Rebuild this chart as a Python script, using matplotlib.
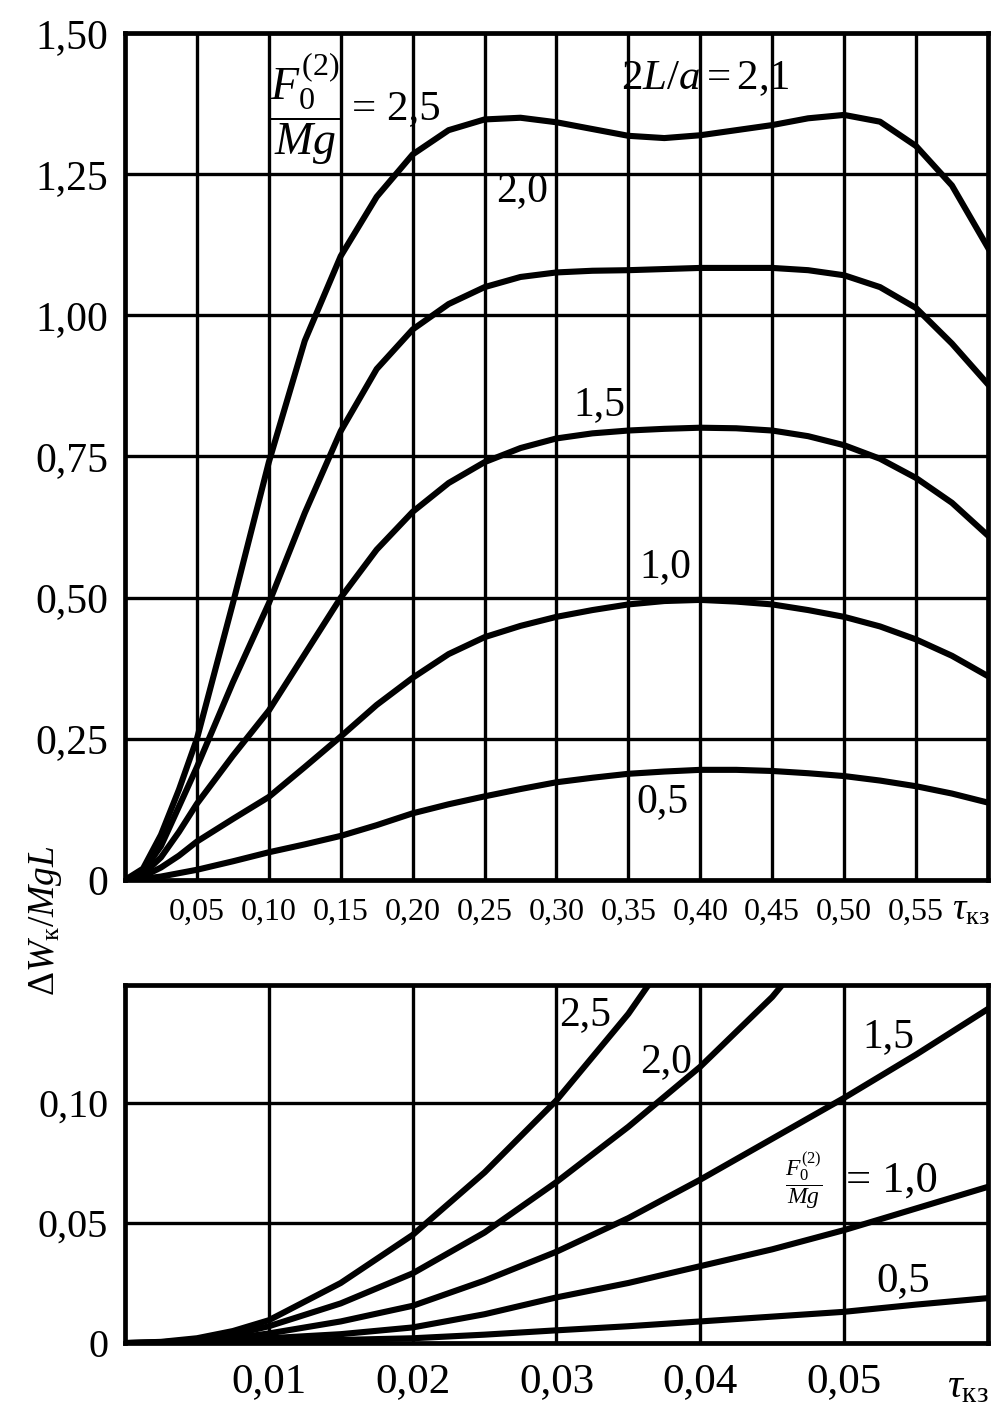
import matplotlib
matplotlib.use("Agg")
import matplotlib.pyplot as plt

plt.rcParams['font.family'] = ['Liberation Serif', 'DejaVu Serif']
plt.rcParams['mathtext.fontset'] = 'custom'
plt.rcParams['mathtext.rm'] = 'Liberation Serif'
plt.rcParams['mathtext.it'] = 'Liberation Serif:italic'
plt.rcParams['mathtext.bf'] = 'Liberation Serif:bold'

# top panel: tau_kz from 0 to 0.6
tau_top = [0, 0.0125, 0.025, 0.0375, 0.05, 0.075, 0.10, 0.125, 0.15, 0.175, 0.20,
           0.225, 0.25, 0.275, 0.30, 0.325, 0.35, 0.375, 0.40, 0.425, 0.45, 0.475,
           0.50, 0.525, 0.55, 0.575, 0.60]
w_top_25 = [0, 0.02, 0.08, 0.16, 0.25, 0.49, 0.74, 0.955, 1.105, 1.21, 1.285, 1.328, 1.347,
            1.35, 1.342, 1.33, 1.318, 1.314, 1.319, 1.328, 1.337, 1.349, 1.355, 1.343,
            1.30, 1.23, 1.12]
w_top_20 = [0, 0.015, 0.06, 0.13, 0.20, 0.35, 0.49, 0.65, 0.795, 0.905, 0.975, 1.02,
            1.05, 1.068, 1.076, 1.079, 1.08, 1.082, 1.084, 1.084, 1.084, 1.08, 1.071,
            1.05, 1.013, 0.95, 0.878]
w_top_15 = [0, 0.01, 0.04, 0.085, 0.135, 0.22, 0.30, 0.40, 0.50, 0.585, 0.652, 0.703,
            0.74, 0.765, 0.782, 0.791, 0.796, 0.799, 0.801, 0.8, 0.796, 0.786, 0.77,
            0.746, 0.712, 0.668, 0.61]
w_top_10 = [0, 0.006, 0.022, 0.043, 0.068, 0.108, 0.147, 0.20, 0.254, 0.31, 0.358, 0.40,
            0.43, 0.45, 0.466, 0.478, 0.488, 0.494, 0.496, 0.493, 0.488, 0.478, 0.466,
            0.449, 0.426, 0.397, 0.361]
w_top_05 = [0, 0.002, 0.006, 0.012, 0.018, 0.033, 0.049, 0.063, 0.078, 0.097, 0.118,
            0.134, 0.148, 0.161, 0.173, 0.181, 0.188, 0.192, 0.195, 0.195, 0.193, 0.189,
            0.184, 0.176, 0.166, 0.153, 0.137]

# bottom panel: zoom on tau_kz 0..0.06
tau_bot = [0, 0.0025, 0.005, 0.0075, 0.01, 0.015, 0.02, 0.025, 0.03, 0.035, 0.04,
           0.045, 0.05, 0.055, 0.06]
w_bot_25 = [0, 0.0005, 0.002, 0.005, 0.0095, 0.025, 0.045, 0.071, 0.101, 0.137, 0.18]
w_bot_20 = [0, 0.0003, 0.0015, 0.0035, 0.007, 0.0165, 0.029, 0.046, 0.067, 0.09, 0.115,
            0.144, 0.18]
w_bot_15 = [0, 0.0002, 0.001, 0.002, 0.004, 0.009, 0.0155, 0.026, 0.038, 0.052, 0.068,
            0.085, 0.102, 0.12, 0.139]
w_bot_10 = [0, 0.0001, 0.0004, 0.001, 0.002, 0.0037, 0.0065, 0.012, 0.019, 0.025, 0.032,
            0.039, 0.047, 0.056, 0.065]
w_bot_05 = [0, 0, 0.0001, 0.0003, 0.0007, 0.0013, 0.002, 0.0035, 0.0053, 0.007, 0.009,
            0.011, 0.013, 0.016, 0.0187]

top_xticks = [0.05, 0.10, 0.15, 0.20, 0.25, 0.30, 0.35, 0.40, 0.45, 0.50, 0.55]
top_yticks = [0, 0.25, 0.50, 0.75, 1.00, 1.25, 1.50]
bot_xticks = [0.01, 0.02, 0.03, 0.04, 0.05]
bot_yticks = [0, 0.05, 0.10]


def fmt(v, nd):
    if v == 0:
        return '0'
    return f'{v:.{nd}f}'.replace('.', ',')


fig = plt.figure(figsize=(10.05, 14.25), dpi=100)
ax1 = fig.add_axes([0.1244, 0.3825, 0.8586, 0.5943])
ax2 = fig.add_axes([0.1244, 0.0575, 0.8586, 0.2513])

for ax in (ax1, ax2):
    for s in ax.spines.values():
        s.set_linewidth(3.4)
    ax.grid(True, color='black', linewidth=2.4)
    ax.set_axisbelow(True)
    ax.tick_params(length=0)

lw = 4.4
for ys in (w_top_25, w_top_20, w_top_15, w_top_10, w_top_05):
    ax1.plot(tau_top, ys, color='black', linewidth=lw, solid_joinstyle='round')
ax1.set_xlim(0, 0.60)
ax1.set_ylim(0, 1.50)
ax1.set_xticks(top_xticks)
ax1.set_xticklabels([fmt(v, 2) for v in top_xticks], fontsize=23)
ax1.set_yticks(top_yticks)
ax1.set_yticklabels([fmt(v, 2) for v in top_yticks], fontsize=30)
ax1.tick_params(axis='x', pad=13)
ax1.tick_params(axis='y', pad=12)

ax1.text(0.345, 1.42, r'$2L/a = 2{,}1$', fontsize=31, ha='left', va='center')
ax1.text(0.126, 1.366, r'$\dfrac{F_0^{(2)}}{Mg}$', fontsize=33, ha='center', va='center')
ax1.text(0.158, 1.366, '= 2,5', fontsize=31, ha='left', va='center')
ax1.text(0.276, 1.221, '2,0', fontsize=30, ha='center', va='center')
ax1.text(0.33, 0.842, '1,5', fontsize=30, ha='center', va='center')
ax1.text(0.376, 0.554, '1,0', fontsize=30, ha='center', va='center')
ax1.text(0.374, 0.138, '0,5', fontsize=30, ha='center', va='center')
ax1.text(0.588, -0.053, r'$\tau_{\mathrm{кз}}$', fontsize=27, ha='center', va='center')

for ys in (w_bot_25, w_bot_20, w_bot_15, w_bot_10, w_bot_05):
    ax2.plot(tau_bot[:len(ys)], ys, color='black', linewidth=lw,
             solid_joinstyle='round')
ax2.set_xlim(0, 0.06)
ax2.set_ylim(0, 0.149)
ax2.set_xticks(bot_xticks)
ax2.set_xticklabels([fmt(v, 2) for v in bot_xticks], fontsize=31)
ax2.set_yticks(bot_yticks)
ax2.set_yticklabels([fmt(v, 2) for v in bot_yticks], fontsize=29)
ax2.tick_params(axis='x', pad=14)
ax2.tick_params(axis='y', pad=12)

ax2.text(0.032, 0.1367, '2,5', fontsize=30, ha='center', va='center')
ax2.text(0.0376, 0.117, '2,0', fontsize=30, ha='center', va='center')
ax2.text(0.0531, 0.1275, '1,5', fontsize=30, ha='center', va='center')
ax2.text(0.0472, 0.0675, r'$\dfrac{F_0^{(2)}}{Mg}$', fontsize=17, ha='center', va='center')
ax2.text(0.0501, 0.0675, '= 1,0', fontsize=32, ha='left', va='center')
ax2.text(0.0541, 0.0258, '0,5', fontsize=31, ha='center', va='center')
ax2.text(0.0586, -0.0185, r'$\tau_{\mathrm{кз}}$', fontsize=30, ha='center', va='center')

fig.text(0.045, 0.354, r'$\Delta W_{\mathrm{к}}/MgL$', fontsize=27, rotation=90,
         ha='center', va='center')

fig.savefig('out.png', dpi=100)
